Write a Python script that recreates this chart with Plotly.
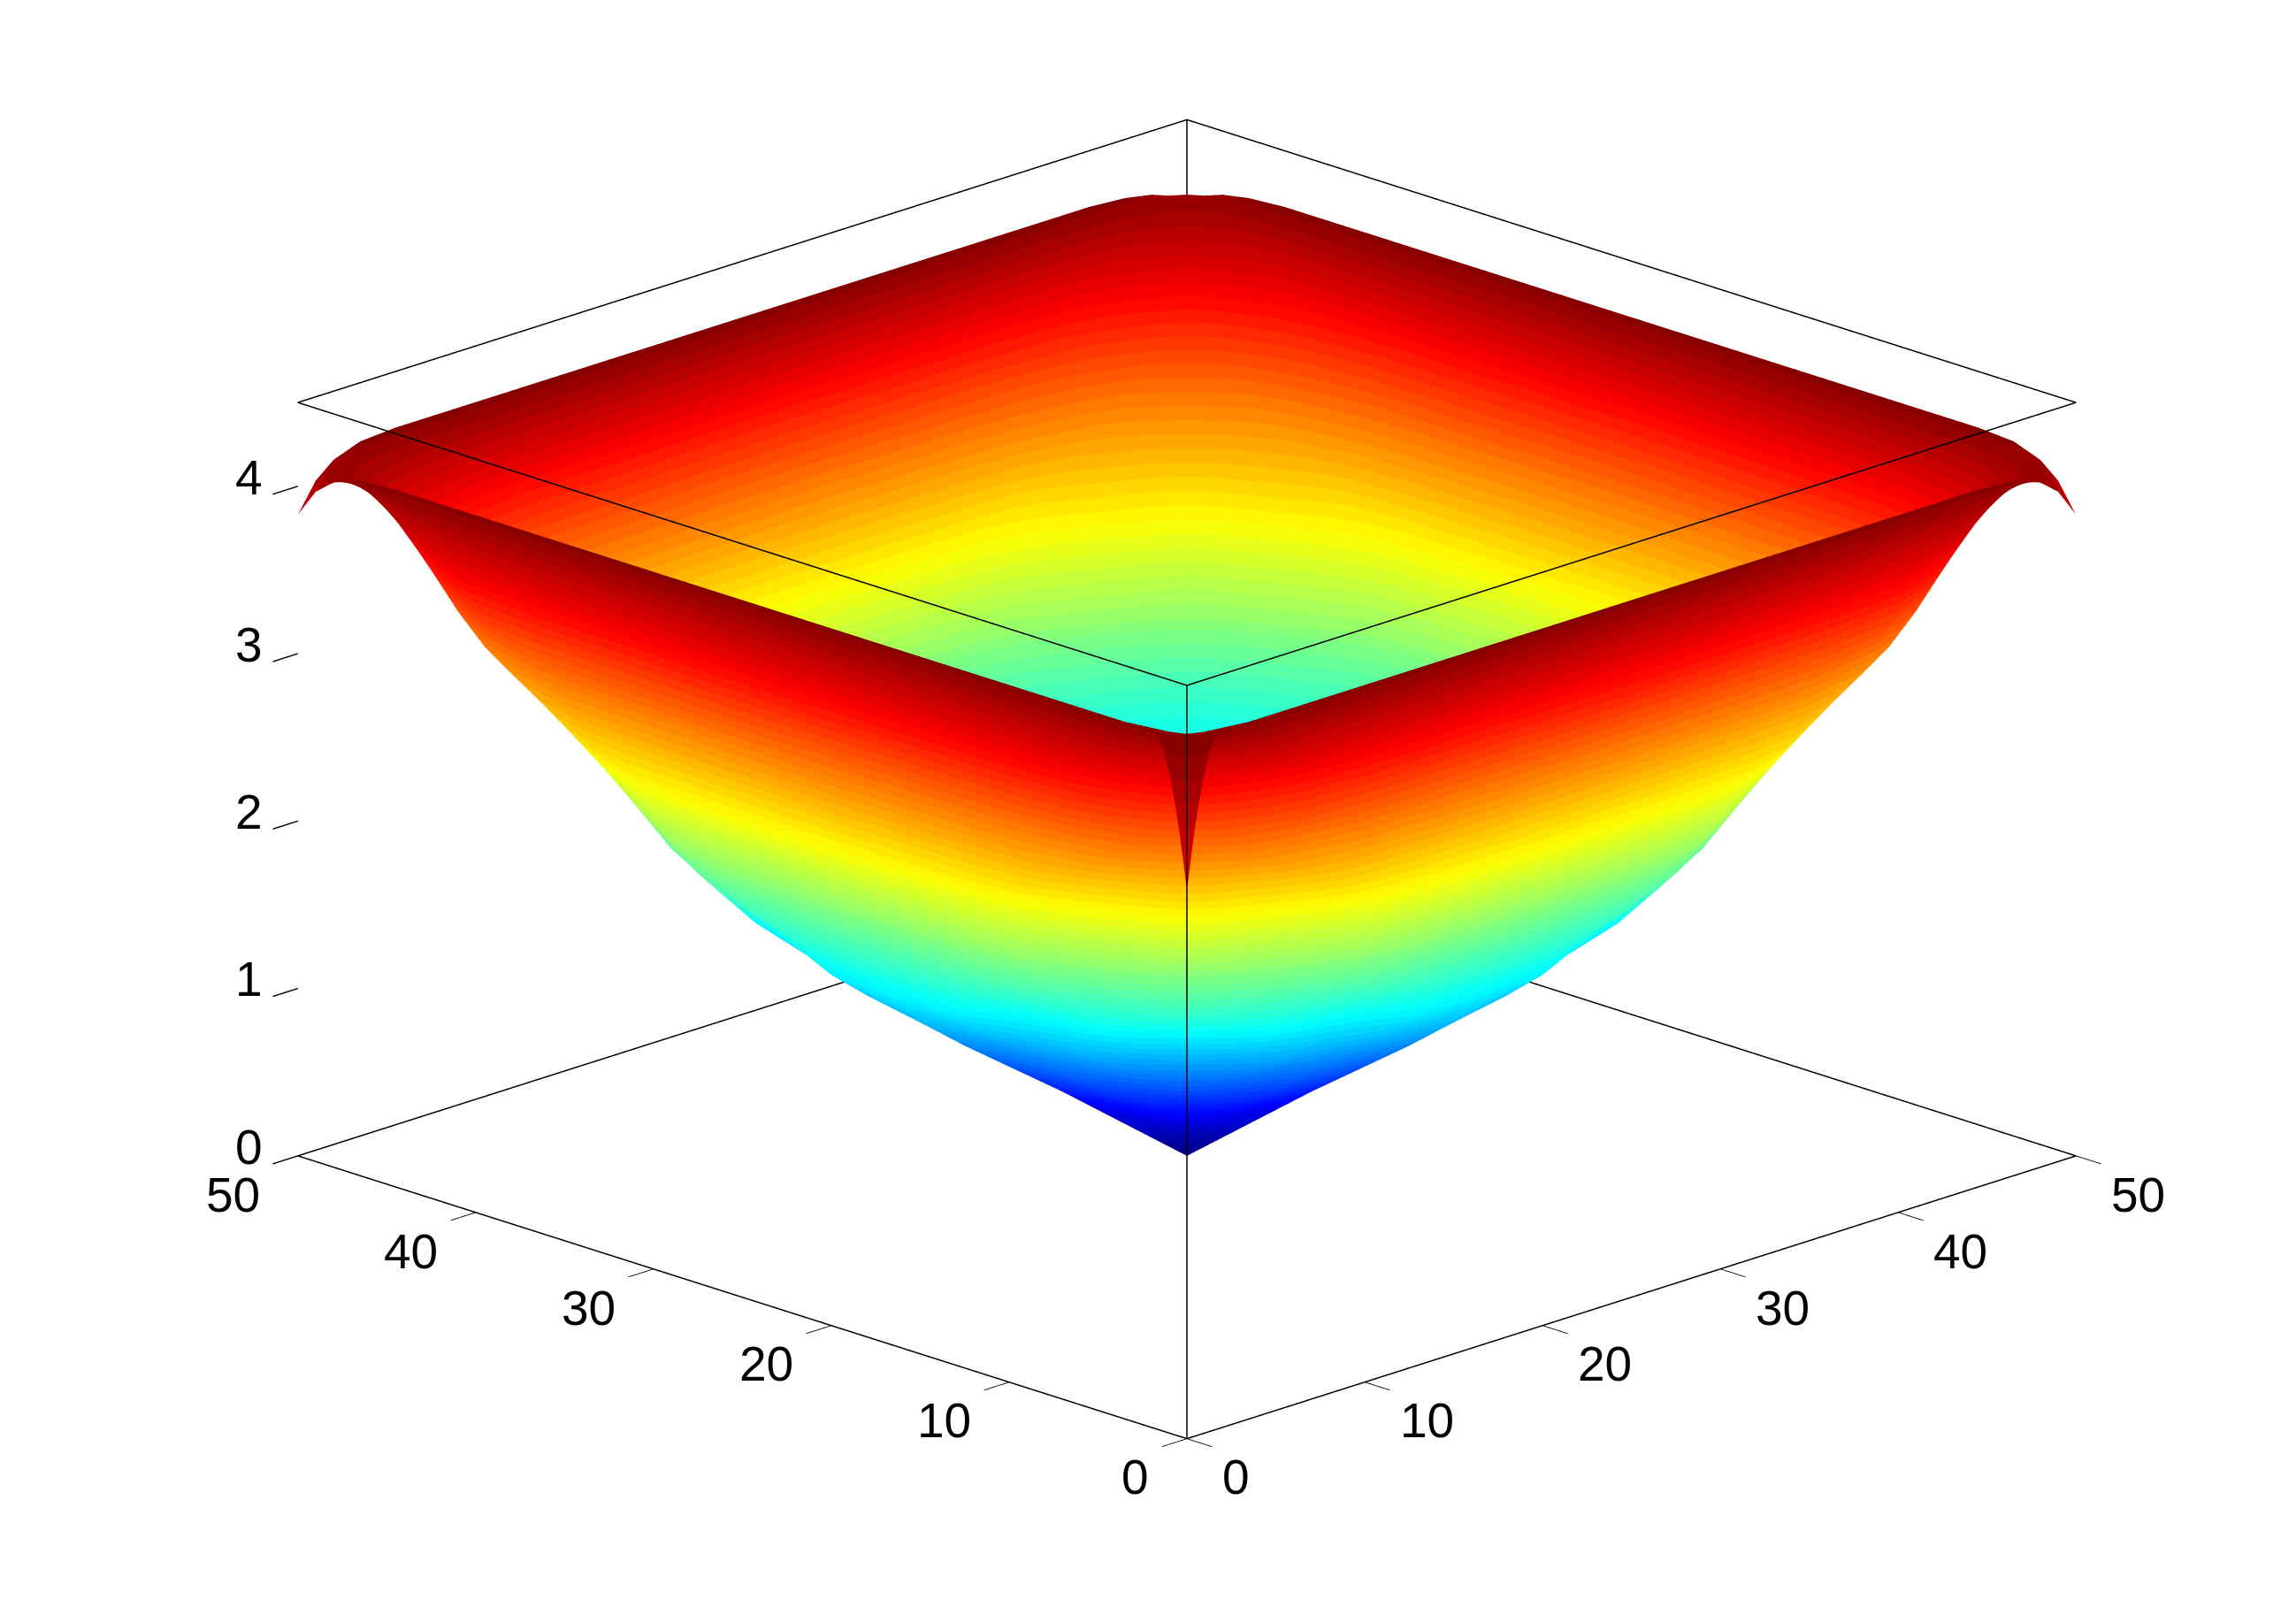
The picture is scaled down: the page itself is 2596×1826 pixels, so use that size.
import math
import plotly.graph_objects as go

X_VALUES = [0, 1, 2, 3.5, 5.5, 7, 8.5, 10.5, 12.5, 15.25, 18, 21.5, 25,
            28.5, 32, 34.75, 37.5, 39.5, 41.5, 43, 44.5, 46.5, 48, 49, 50]
Y_VALUES = [0, 1, 2, 3.5, 5.5, 7, 8.5, 10.5, 12.5, 15.25, 18, 21.5, 25,
            28.5, 32, 34.75, 37.5, 39.5, 41.5, 43, 44.5, 46.5, 48, 49, 50]

# One quarter of the bowl: rows and columns run from the rim (x=0, y=0) to the centre (25, 25).
Z_QUARTER = [
 [3.83, 4.00, 4.09, 4.15, 4.165, 4.165, 4.165, 4.165, 4.165, 4.165, 4.165, 4.165, 4.165],
 [4.00, 4.12, 4.08, 4.00, 3.85, 3.78, 3.70, 3.66, 3.62, 3.61, 3.60, 3.56, 3.55],
 [4.09, 4.08, 4.00, 3.85, 3.65, 3.52, 3.40, 3.32, 3.25, 3.22, 3.20, 3.16, 3.15],
 [4.15, 4.00, 3.85, 3.58, 3.32, 3.16, 3.05, 2.92, 2.77, 2.68, 2.65, 2.62, 2.60],
 [4.165, 3.85, 3.65, 3.32, 3.05, 2.90, 2.78, 2.62, 2.47, 2.24, 2.15, 2.12, 2.10],
 [4.165, 3.78, 3.52, 3.16, 2.90, 2.70, 2.57, 2.40, 2.22, 1.99, 1.86, 1.78, 1.75],
 [4.165, 3.70, 3.40, 3.05, 2.78, 2.57, 2.34, 2.16, 1.97, 1.80, 1.70, 1.52, 1.48],
 [4.165, 3.66, 3.32, 2.92, 2.62, 2.40, 2.16, 1.88, 1.72, 1.55, 1.46, 1.33, 1.26],
 [4.165, 3.62, 3.25, 2.77, 2.47, 2.22, 1.97, 1.72, 1.575, 1.40, 1.25, 1.16, 1.08],
 [4.165, 3.61, 3.22, 2.68, 2.24, 1.99, 1.80, 1.55, 1.40, 1.21, 1.05, 0.91, 0.85],
 [4.165, 3.60, 3.20, 2.65, 2.15, 1.86, 1.70, 1.46, 1.25, 1.05, 0.86, 0.69, 0.62],
 [4.165, 3.56, 3.16, 2.62, 2.12, 1.78, 1.52, 1.33, 1.16, 0.91, 0.69, 0.44, 0.31],
 [4.165, 3.55, 3.15, 2.60, 2.10, 1.75, 1.48, 1.26, 1.08, 0.85, 0.62, 0.31, 0.00],
]
# Points near the front (x=y=0) and back (x=y=50) corners that differ from the quarter: (x index, y index, z).
CORNER_POINTS = [
 (0, 0, 4.21), (0, 1, 4.19), (1, 0, 4.19), (0, 2, 4.18), (2, 0, 4.18), (0, 3, 4.165), (3, 0, 4.165),
 (1, 1, 3.20),
 (24, 24, 4.04), (24, 23, 4.08), (23, 24, 4.08), (24, 22, 4.12), (22, 24, 4.12),
]
FOLD_COLOUR_VALUE = 3.75

XY_TICKS = [0, 10, 20, 30, 40, 50]
Z_TICKS = [0, 1, 2, 3, 4]
XY_LIMITS = [0, 50]
Z_LIMITS = [0, 4.5]
COLOR_LIMITS = [0, 4.21]

FONT = "Liberation Sans"
FONT_SIZE = 55
ELEVATION = 18.55
EYE_DISTANCE = 2.0
XY_ASPECT = 1.6284
Z_ASPECT = 1.0291


def jet(v):
    r = min(1, max(0, min(4 * v - 1.5, -4 * v + 4.5)))
    g = min(1, max(0, min(4 * v - 0.5, -4 * v + 3.5)))
    b = min(1, max(0, min(4 * v + 0.5, -4 * v + 2.5)))
    return f"rgb({round(r*255)},{round(g*255)},{round(b*255)})"


N = 64
colorscale = []
for k in range(N):
    c = jet((k + 0.5) / N)
    colorscale += [[k / N, c], [(k + 1) / N, c]]

half = [row + row[-2::-1] for row in Z_QUARTER]
z_grid = [list(r) for r in half + half[-2::-1]]
for ix, iy, value in CORNER_POINTS:
    z_grid[iy][ix] = value
surface_colour = [row[:] for row in z_grid]
surface_colour[1][1] = FOLD_COLOUR_VALUE

x0, x1 = XY_LIMITS
z0, z1 = Z_LIMITS
corners_floor = [(x0, x0), (x1, x0), (x1, x1), (x0, x1), (x0, x0)]
bx, by, bz = [], [], []
for level in (z0, z1):
    for cx, cy in corners_floor:
        bx.append(cx); by.append(cy); bz.append(level)
    bx.append(None); by.append(None); bz.append(None)
for cx, cy in [(x0, x0), (x1, x1)]:
    bx += [cx, cx, None]; by += [cy, cy, None]; bz += [z0, z1, None]

fig = go.Figure()
fig.add_trace(go.Surface(
    x=X_VALUES, y=Y_VALUES, z=z_grid, surfacecolor=surface_colour,
    colorscale=colorscale, cmin=COLOR_LIMITS[0], cmax=COLOR_LIMITS[1],
    showscale=False, hoverinfo="skip",
    lighting=dict(ambient=1, diffuse=0, specular=0, roughness=1, fresnel=0),
))
fig.add_trace(go.Scatter3d(
    x=bx, y=by, z=bz, mode="lines", line=dict(color="black", width=3),
    hoverinfo="skip", showlegend=False,
))


def axis(rng, vals):
    return dict(
        range=rng, autorange=False, tickmode="array", tickvals=vals,
        showticklabels=False, title=dict(text=""),
        showgrid=False, zeroline=False, showbackground=False, showline=False,
        showspikes=False, ticks="outside", ticklen=40, tickwidth=3, tickcolor="black",
    )


def label(x, y, z, text, anchor, xshift, yshift):
    return dict(
        x=x, y=y, z=z, text=text, showarrow=False, xanchor=anchor, yanchor="middle",
        xshift=xshift, yshift=yshift,
        font=dict(family=FONT, size=FONT_SIZE, color="black"),
    )


annotations = []
for v in XY_TICKS:
    annotations.append(label(v, x0, z0, str(v), "left", 38, -44))
    annotations.append(label(x0, v, z0, str(v), "right", -41, -44))
for v in Z_TICKS:
    annotations.append(label(x0, x1, v, str(v), "right", -38, 10))

el = math.radians(ELEVATION)
fig.update_layout(
    width=2596, height=1826, margin=dict(l=0, r=0, t=0, b=0),
    paper_bgcolor="white", showlegend=False,
    scene=dict(
        domain=dict(x=[0.0277, 1], y=[0.044, 1]),
        xaxis=axis(XY_LIMITS, XY_TICKS),
        yaxis=axis(XY_LIMITS, XY_TICKS),
        zaxis=axis(Z_LIMITS, Z_TICKS),
        aspectmode="manual",
        aspectratio=dict(x=XY_ASPECT, y=XY_ASPECT, z=Z_ASPECT),
        annotations=annotations,
        camera=dict(
            projection=dict(type="orthographic"),
            up=dict(x=0, y=0, z=1),
            center=dict(x=0, y=0, z=0),
            eye=dict(
                x=-EYE_DISTANCE * math.cos(el) / math.sqrt(2),
                y=-EYE_DISTANCE * math.cos(el) / math.sqrt(2),
                z=EYE_DISTANCE * math.sin(el),
            ),
        ),
    ),
)
fig.write_html("out.html")
